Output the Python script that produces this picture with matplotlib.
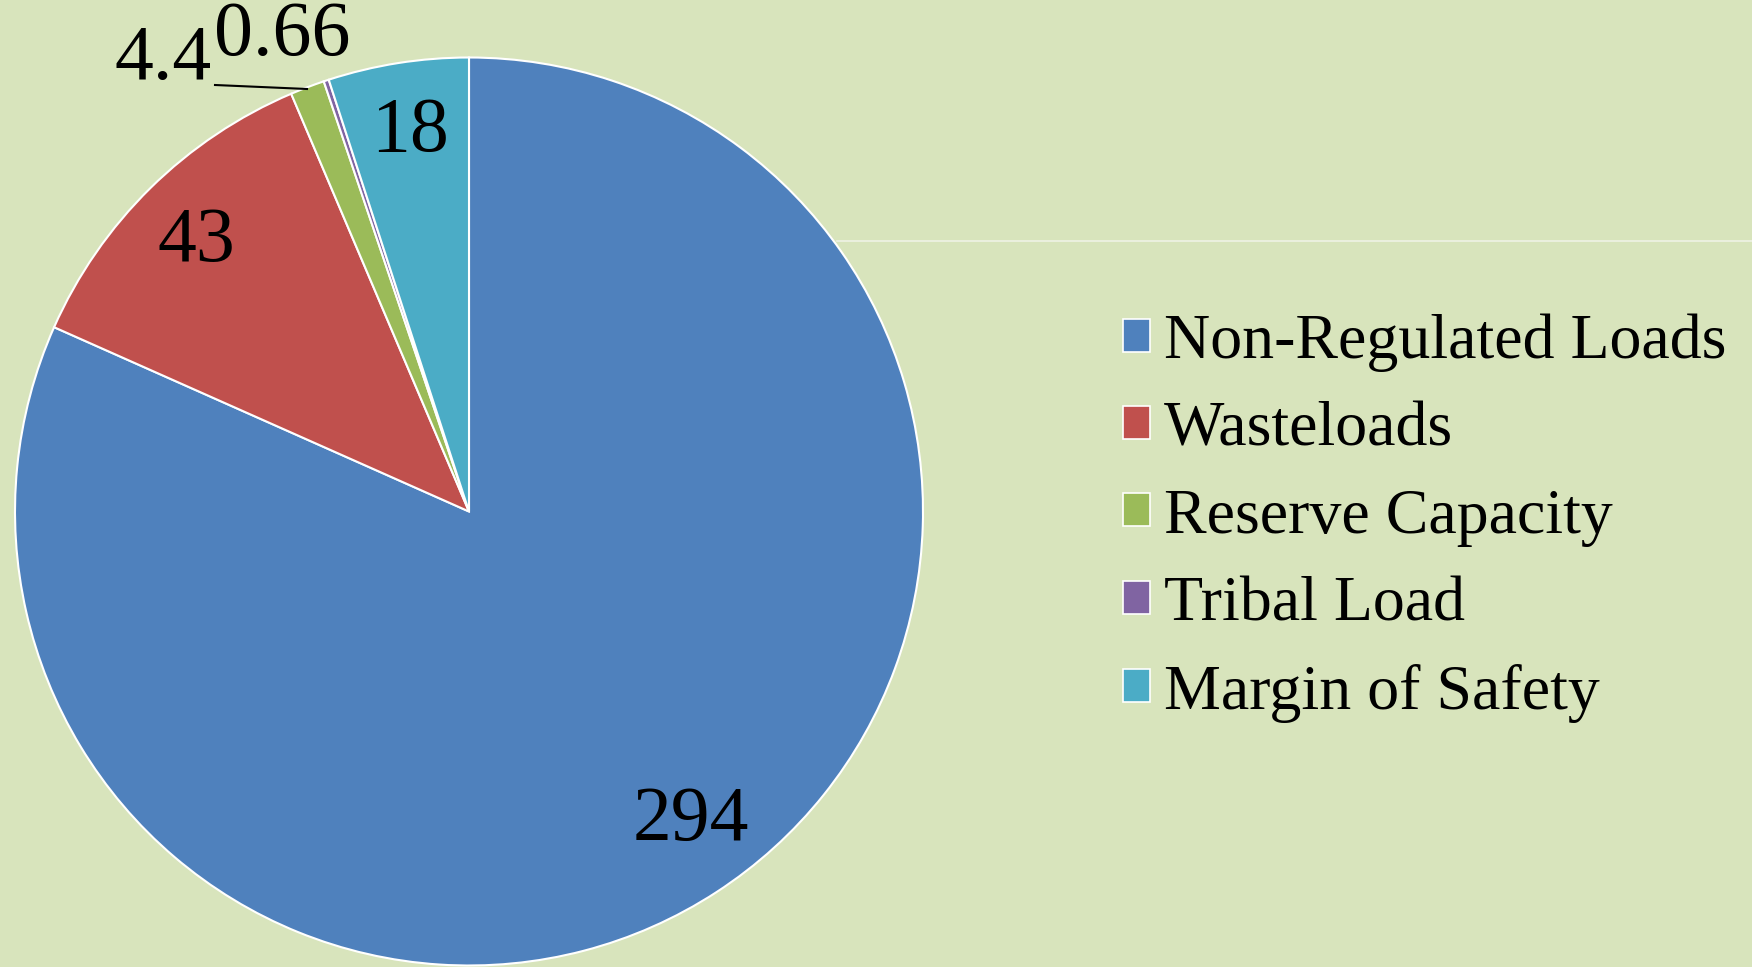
import numpy as np
import matplotlib
matplotlib.use("Agg")
import matplotlib.pyplot as plt
from matplotlib.lines import Line2D

plt.rcParams['font.family'] = ['Liberation Serif', 'DejaVu Serif']

categories = ["Non-Regulated Loads", "Wasteloads", "Reserve Capacity", "Tribal Load", "Margin of Safety"]
values = [294, 43, 4.4, 0.66, 18]
value_labels = ["294", "43", "4.4", "0.66", "18"]
colors = ["#4F81BD", "#C0504D", "#9BBB59", "#8064A2", "#4BACC6"]
bg = "#D8E4BC"

W, H = 1752, 967
fig = plt.figure(figsize=(W / 100, H / 100), dpi=100, facecolor=bg)

# pie centre / radius in pixels
cx, cy, r = 469, 511.5, 454
ax = fig.add_axes([(cx - r) / W, (H - cy - r) / H, 2 * r / W, 2 * r / H])
ax.set_facecolor(bg)
ax.axis("off")

wedges, _ = ax.pie(values, colors=colors, startangle=90, counterclock=False,
                   radius=1, wedgeprops=dict(edgecolor="white", linewidth=1.5))
ax.set_xlim(-1, 1)
ax.set_ylim(-1, 1)
ax.set_aspect("equal")

def px2data(px, py):
    return (px - cx) / r, (cy - py) / r

# big labels inside the wedges (distance, angle tweak)
for w, lab, dist, dang in zip(wedges, value_labels, [0.83, 0.85, None, None, 0.855], [3, 0.3, 0, 0, -0.3]):
    if dist is None:
        continue
    ang = np.deg2rad((w.theta1 + w.theta2) / 2 + dang)
    ax.text(dist * np.cos(ang), dist * np.sin(ang) - 0.01, lab, ha="center", va="center",
            fontsize=56, color="black")

# small labels outside with leader
x, y = px2data(163, 60)
ax.text(x, y, value_labels[2], ha="center", va="center", fontsize=56, clip_on=False)
x, y = px2data(282, 36)
ax.text(x, y, value_labels[3], ha="center", va="center", fontsize=56, clip_on=False)
x0, y0 = px2data(215, 85)
x1, y1 = px2data(307, 89)
ax.plot([x0, x1], [y0, y1], color="black", lw=1.5, clip_on=False)

# faint line on the right
fig.add_artist(Line2D([837 / W, 1.0], [1 - 241 / H, 1 - 241 / H], color="#EEF2E4", lw=1.2))

handles = [plt.Rectangle((0, 0), 1, 1, facecolor=c, edgecolor="white", linewidth=1.2) for c in colors]
fig.legend(handles, categories, loc="center left", bbox_to_anchor=(1123 / W, 1 - 518 / H),
           frameon=False, fontsize=46, handlelength=0.42, handleheight=0.42,
           handletextpad=0.22, labelspacing=0.46, borderpad=0, borderaxespad=0)

fig.savefig("out.png", dpi=100, facecolor=bg)
